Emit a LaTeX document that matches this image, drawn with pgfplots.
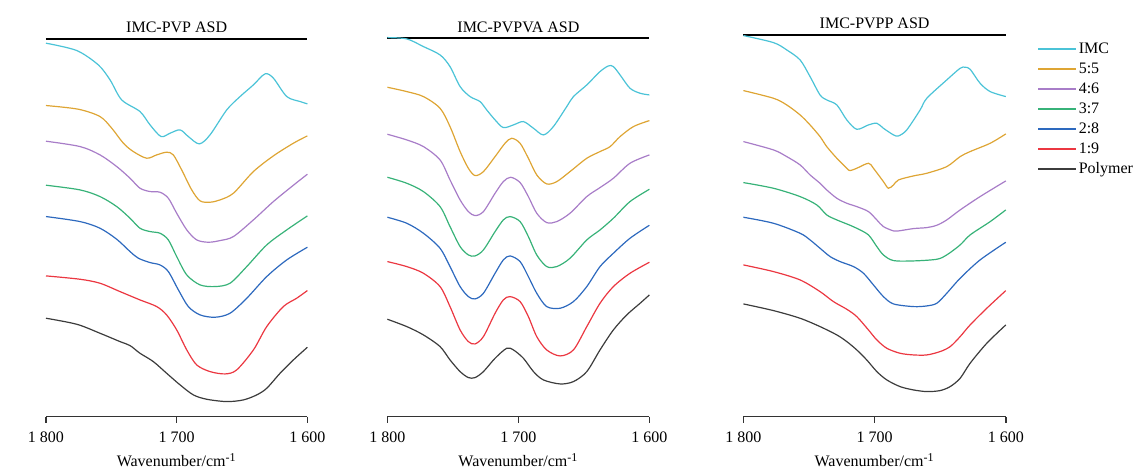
\documentclass[border=0pt]{standalone}
\usepackage{fontspec}
\setmainfont{Liberation Serif}
\usepackage{pgfplots}
\pgfplotsset{compat=1.18}

\definecolor{cIMC}{RGB}{75,195,215}
\definecolor{cA}{RGB}{222,165,52}
\definecolor{cB}{RGB}{168,125,200}
\definecolor{cC}{RGB}{55,178,120}
\definecolor{cD}{RGB}{45,105,190}
\definecolor{cE}{RGB}{235,55,65}
\definecolor{cP}{RGB}{60,60,60}
\newcommand\fs{\fontsize{8}{9.6}\selectfont}

\pgfplotsset{
  panel/.style={
    scale only axis, anchor=south west,
    x dir=reverse, xmin=1600, xmax=1800, ymin=-1250,
    axis x line*=bottom, axis y line=none,
    xtick={1600,1700,1800}, xticklabels={1\ 600,1\ 700,1\ 800},
    tick align=outside, major tick length=3pt,
    x axis line style={black!80, line width=0.8pt},
    every tick/.style={black!80, line width=0.8pt},
    tick label style={font=\fs}, label style={font=\fs},
    xticklabel style={yshift=-1pt},
    xlabel={Wavenumber/cm\textsuperscript{-1}},
    xlabel style={yshift=1.5pt},
    clip=false,
    every axis plot/.append style={line width=0.6pt, smooth, tension=0.5},
  },
}

\begin{document}
\begin{tikzpicture}
\useasboundingbox (0,0) rectangle (572pt,234.5pt);

% IMC-PVP
\begin{axis}[panel, at={(23pt,26.2pt)}, width=130.7pt, height=188.7pt, ymax=-118]
\draw[line width=1pt] (axis cs:1800,-118) -- (axis cs:1600,-118);
\node[font=\fs, anchor=base, yshift=3.5pt] at (axis cs:1700,-118) {IMC-PVP ASD};
\addplot[color=cIMC] coordinates {(1800,-130)(1776.5,-152)(1760,-195)(1751,-240)(1742.1,-300)(1728.1,-335)(1720.4,-375)(1712,-410)(1705.1,-400)(1697.4,-390)(1691.1,-410)(1682.7,-432)(1674.5,-405)(1661.7,-330)(1651.5,-290)(1641.3,-255)(1632.4,-222)(1626,-235)(1615.8,-290)(1605.6,-305)(1600,-312)};
\addplot[color=cA] coordinates {(1800,-317)(1775.3,-328)(1758.7,-350)(1749.7,-385)(1740.8,-430)(1733.2,-455)(1723,-475)(1715.3,-465)(1707.7,-457)(1702.6,-465)(1696.2,-510)(1688.5,-570)(1682.1,-603)(1674.5,-607)(1666.8,-600)(1656.6,-580)(1641.3,-515)(1626,-468)(1610.7,-430)(1600,-408)};
\addplot[color=cB] coordinates {(1800,-424)(1774,-440)(1758.7,-465)(1745.9,-500)(1735.7,-535)(1728.1,-565)(1720.4,-575)(1712.8,-577)(1706.4,-595)(1700,-640)(1692.3,-690)(1684.7,-720)(1675.8,-727)(1666.8,-722)(1656.6,-710)(1641.3,-660)(1626,-605)(1610.7,-556)(1600,-523)};
\addplot[color=cC] coordinates {(1800,-556)(1774,-570)(1758.7,-590)(1745.9,-620)(1735.7,-655)(1728.1,-685)(1720.4,-695)(1712.8,-700)(1706.4,-720)(1700,-770)(1692.3,-825)(1682.1,-855)(1670.7,-860)(1659.2,-850)(1646.4,-800)(1631.1,-735)(1615.8,-690)(1600,-648)};
\addplot[color=cD] coordinates {(1800,-650)(1774,-665)(1758.7,-685)(1745.9,-718)(1735.7,-755)(1729.3,-775)(1720.4,-788)(1712.8,-795)(1706.4,-815)(1698.7,-870)(1691.1,-920)(1682.1,-945)(1670.7,-952)(1659.2,-940)(1646.4,-895)(1631.1,-830)(1615.8,-780)(1600,-742)};
\addplot[color=cE] coordinates {(1800,-828)(1774,-838)(1758.7,-850)(1743.4,-875)(1728.1,-900)(1715.3,-920)(1707.7,-945)(1700,-990)(1692.3,-1050)(1684.7,-1095)(1674.5,-1115)(1663,-1122)(1654.1,-1110)(1641.3,-1050)(1631.1,-980)(1618.4,-920)(1608.2,-895)(1600,-872)};
\addplot[color=cP] coordinates {(1800,-955)(1776.5,-973)(1758.7,-1000)(1743.4,-1025)(1735.7,-1037)(1728.1,-1060)(1717.9,-1085)(1707.7,-1120)(1697.4,-1155)(1687.2,-1185)(1677,-1198)(1661.7,-1205)(1649,-1200)(1638.8,-1185)(1631.1,-1165)(1620.9,-1120)(1610.7,-1080)(1600,-1042)};
\end{axis}

% IMC-PVPVA
\begin{axis}[panel, at={(193.7pt,26.2pt)}, width=131pt, height=189.5pt, ymax=-113]
\draw[line width=1pt] (axis cs:1800,-113) -- (axis cs:1600,-113);
\node[font=\fs, anchor=base, yshift=2.5pt] at (axis cs:1700,-113) {IMC-PVPVA ASD};
\addplot[color=cIMC] coordinates {(1800,-113)(1785.2,-117)(1772.5,-140)(1759.8,-165)(1752.2,-200)(1744.5,-260)(1736.9,-290)(1729.3,-305)(1724.2,-330)(1717.8,-360)(1711.5,-383)(1703.8,-375)(1696.2,-365)(1688.5,-385)(1680.9,-405)(1673.3,-380)(1663.1,-320)(1658,-290)(1647.8,-255)(1637.7,-215)(1631.3,-198)(1627.5,-200)(1622.4,-225)(1614.8,-265)(1607.1,-280)(1600,-285)};
\addplot[color=cA] coordinates {(1800,-262)(1785.2,-275)(1772.5,-290)(1759.8,-325)(1752.2,-380)(1744.5,-455)(1738.2,-505)(1733.1,-527)(1726.7,-515)(1717.8,-470)(1710.2,-430)(1705.1,-415)(1698.7,-430)(1692.4,-475)(1686,-525)(1678.4,-552)(1670.7,-545)(1660.6,-515)(1647.8,-475)(1637.7,-455)(1630,-440)(1622.4,-410)(1612.2,-380)(1600,-362)};
\addplot[color=cB] coordinates {(1800,-403)(1785.2,-420)(1772.5,-440)(1759.8,-480)(1752.2,-540)(1744.5,-600)(1738.2,-635)(1733.1,-647)(1726.7,-635)(1717.8,-580)(1711.5,-545)(1705.9,-532)(1698.7,-548)(1692.4,-590)(1686,-640)(1678.4,-668)(1670.7,-665)(1660.6,-640)(1647.8,-590)(1637.7,-563)(1627.5,-535)(1614.8,-490)(1600,-465)};
\addplot[color=cC] coordinates {(1800,-532)(1785.2,-550)(1772.5,-575)(1759.8,-620)(1752.2,-680)(1744.5,-740)(1738.2,-765)(1733.1,-768)(1726.7,-750)(1717.8,-695)(1711.5,-660)(1706.4,-650)(1698.7,-665)(1692.4,-710)(1686,-765)(1678.4,-800)(1670.7,-800)(1660.6,-775)(1647.8,-720)(1637.7,-690)(1627.5,-655)(1614.8,-605)(1600,-568)};
\addplot[color=cD] coordinates {(1800,-652)(1785.2,-670)(1772.5,-700)(1759.8,-745)(1752.2,-800)(1744.5,-860)(1738.2,-890)(1733.1,-897)(1726.7,-880)(1717.8,-820)(1711.5,-780)(1706.4,-768)(1698.7,-785)(1692.4,-830)(1686,-880)(1678.4,-920)(1668.2,-925)(1658,-905)(1647.8,-860)(1637.7,-800)(1627.5,-760)(1614.8,-715)(1600,-676)};
\addplot[color=cE] coordinates {(1800,-785)(1785.2,-800)(1772.5,-820)(1759.8,-860)(1752.2,-920)(1744.5,-990)(1738.2,-1025)(1733.1,-1032)(1726.7,-1010)(1717.8,-940)(1711.5,-900)(1706.4,-890)(1698.7,-905)(1692.4,-950)(1686,-1010)(1678.4,-1050)(1668.2,-1068)(1658,-1050)(1647.8,-980)(1637.7,-910)(1627.5,-860)(1614.8,-820)(1600,-787)};
\addplot[color=cP] coordinates {(1800,-958)(1785.2,-980)(1772.5,-1005)(1759.8,-1040)(1752.2,-1080)(1744.5,-1115)(1738.2,-1133)(1733.1,-1133)(1726.7,-1115)(1717.8,-1075)(1708.9,-1045)(1703.8,-1050)(1696.2,-1075)(1688.5,-1115)(1680.9,-1140)(1668.2,-1152)(1658,-1145)(1647.8,-1115)(1637.7,-1050)(1627.5,-990)(1617.3,-945)(1607.1,-910)(1600,-885)};
\end{axis}

% IMC-PVPP
\begin{axis}[panel, at={(371.7pt,26.2pt)}, width=131.2pt, height=191pt, ymax=-104,
  legend style={at={(1.096,1.0)}, anchor=north west, draw=none, fill=none,
    font=\fs, row sep=0pt, nodes={inner sep=1pt, text height=6.5pt, text depth=1.5pt}},
  legend cell align=left,
  legend image code/.code={\draw[#1, line width=0.7pt] (0pt,0pt) -- (19pt,0pt);}]
\draw[line width=1pt] (axis cs:1800,-104) -- (axis cs:1600,-104);
\node[font=\fs, anchor=base, yshift=3.2pt] at (axis cs:1700,-104) {IMC-PVPP ASD};
\addplot[color=cIMC] coordinates {(1800,-107)(1777.1,-128)(1767,-150)(1756.8,-180)(1749.2,-230)(1741.6,-285)(1736.5,-300)(1728.8,-315)(1721.2,-360)(1713.6,-388)(1704.7,-375)(1698.3,-370)(1693.3,-385)(1685.6,-405)(1681.8,-408)(1675.5,-390)(1665.3,-330)(1660.2,-295)(1645,-240)(1634.8,-205)(1631,-202)(1627.2,-208)(1619.6,-250)(1611.9,-275)(1600,-290)};
\addlegendentry{IMC}
\addplot[color=cA] coordinates {(1800,-272)(1777.1,-295)(1767,-315)(1756.8,-345)(1749.2,-375)(1741.6,-410)(1736.5,-440)(1728.8,-475)(1721.2,-505)(1718.7,-512)(1713.6,-505)(1704.7,-490)(1700.9,-505)(1693.3,-545)(1689.5,-565)(1685.6,-555)(1681.8,-540)(1670.4,-528)(1660.2,-520)(1645,-500)(1634.8,-470)(1627.2,-455)(1611.9,-430)(1600,-402)};
\addlegendentry{5:5}
\addplot[color=cB] coordinates {(1800,-425)(1777.1,-450)(1767,-470)(1756.8,-495)(1749.2,-525)(1741.6,-550)(1736.5,-570)(1728.8,-595)(1721.2,-610)(1713.6,-620)(1704.7,-635)(1698.3,-660)(1693.3,-680)(1685.6,-693)(1681.8,-693)(1670.4,-686)(1660.2,-683)(1652.6,-676)(1645,-660)(1634.8,-630)(1619.6,-590)(1600,-543)};
\addlegendentry{4:6}
\addplot[color=cC] coordinates {(1800,-548)(1777.1,-565)(1756.8,-590)(1744.1,-615)(1736.5,-645)(1728.8,-660)(1718.7,-676)(1713.6,-685)(1704.7,-705)(1698.3,-740)(1693.3,-765)(1685.6,-782)(1670.4,-783)(1652.6,-778)(1645,-765)(1634.8,-735)(1627.2,-705)(1611.9,-665)(1600,-630)};
\addlegendentry{3:7}
\addplot[color=cD] coordinates {(1800,-652)(1777.1,-670)(1756.8,-700)(1749.2,-720)(1741.6,-745)(1733.9,-770)(1726.3,-785)(1716.1,-800)(1708.5,-820)(1700.9,-855)(1693.3,-890)(1685.6,-912)(1670.4,-920)(1660.2,-918)(1652.6,-910)(1645,-880)(1634.8,-835)(1619.6,-780)(1600,-727)};
\addlegendentry{2:8}
\addplot[color=cE] coordinates {(1800,-795)(1777.1,-815)(1756.8,-840)(1741.6,-875)(1731.4,-905)(1721.2,-928)(1713.6,-950)(1704.7,-990)(1698.3,-1020)(1690.7,-1045)(1680.6,-1060)(1670.4,-1065)(1660.2,-1065)(1650.1,-1055)(1642.4,-1040)(1634.8,-1010)(1627.2,-975)(1614.5,-925)(1600,-872)};
\addlegendentry{1:9}
\addplot[color=cP] coordinates {(1800,-912)(1777.1,-932)(1756.8,-955)(1741.6,-980)(1728.8,-1005)(1721.2,-1025)(1713.6,-1050)(1706,-1080)(1698.3,-1115)(1690.7,-1140)(1680.6,-1160)(1670.4,-1170)(1660.2,-1175)(1650.1,-1172)(1642.4,-1160)(1634.8,-1135)(1627.2,-1090)(1614.5,-1030)(1600,-975)};
\addlegendentry{Polymer}
\end{axis}
\end{tikzpicture}
\end{document}
